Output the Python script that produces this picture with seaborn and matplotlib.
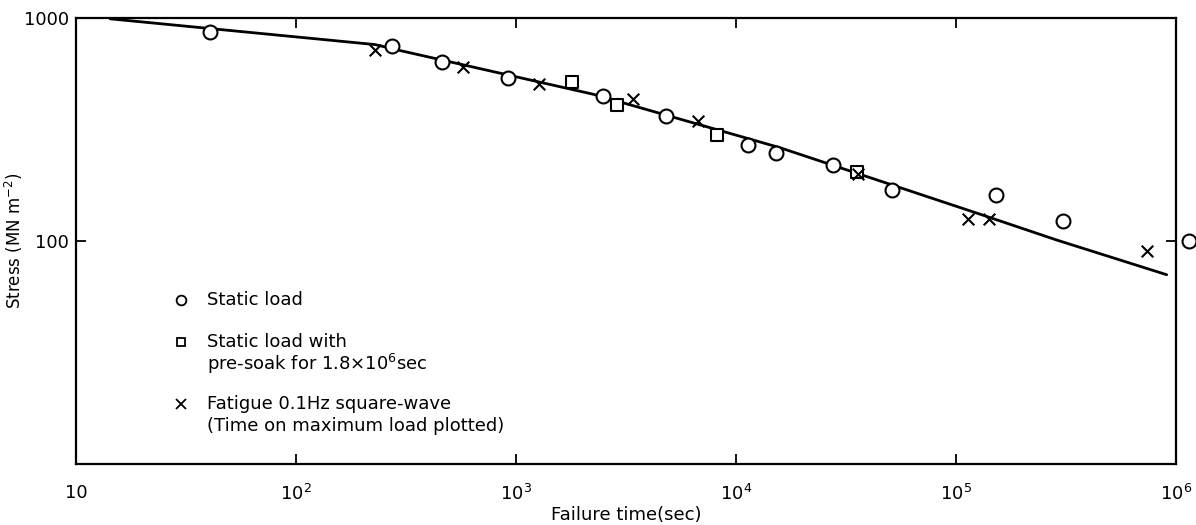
# Stress vs failure time (log-log), static load / pre-soak / fatigue
import numpy as np
import pandas as pd
import matplotlib
matplotlib.use("Agg")
import matplotlib.pyplot as plt
import seaborn as sns

# ── DATA ────────────────────────────────────────────────────
curve_t      = [14.3, 229, 297, 2239, 15850, 128500, 287700, 910000]
curve_stress = [990, 759, 714, 455, 262, 132, 101, 70.6]

static_t      = [40.6, 273, 461, 920, 2483, 4808, 11340, 15200, 27600, 51200,
                 152000, 306000, 1146000]
static_stress = [866, 751, 631, 536, 446, 363, 270, 249, 220, 170, 160, 123, 100]

soak_t      = [1800, 2877, 8200, 35500]
soak_stress = [514, 406, 299, 203]

fatigue_t      = [229, 574, 1273, 3404, 6714, 35900, 113500, 141000, 738000]
fatigue_stress = [721, 600, 504, 433, 345, 199, 125, 125, 90.3]

x_ticks  = [10, 1e2, 1e3, 1e4, 1e5, 1e6]
x_labels = ["10", r"$\mathregular{10^2}$", r"$\mathregular{10^3}$",
            r"$\mathregular{10^4}$", r"$\mathregular{10^5}$", r"$\mathregular{10^6}$"]
y_ticks  = [100, 1000]
y_labels = ["100", "1000"]

# ── STYLE ───────────────────────────────────────────────────
sns.set_style("ticks")
plt.rcParams["font.family"] = ["DejaVu Sans"]
plt.rcParams["mathtext.fontset"] = "dejavusans"
plt.rcParams["text.color"] = "black"
plt.rcParams["axes.labelcolor"] = "black"
plt.rcParams["xtick.color"] = "black"
plt.rcParams["ytick.color"] = "black"
plt.rcParams["axes.edgecolor"] = "black"

fig = plt.figure(figsize=(11.96, 5.25), dpi=100)
ax = fig.add_axes([0.0635, 0.116, 0.9195, 0.850])

curve_df = pd.DataFrame({"t": curve_t, "s": curve_stress})
sns.lineplot(data=curve_df, x="t", y="s", ax=ax, color="black", lw=2,
             sort=False, zorder=1)

sns.scatterplot(x=static_t, y=static_stress, ax=ax, marker="o", s=100,
                facecolor="white", edgecolor="black", linewidth=1.5,
                zorder=3, clip_on=False)
sns.scatterplot(x=soak_t, y=soak_stress, ax=ax, marker="s", s=65,
                facecolor="white", edgecolor="black", linewidth=1.5,
                zorder=3, clip_on=False)
sns.scatterplot(x=fatigue_t, y=fatigue_stress, ax=ax, marker="x", s=70,
                color="black", linewidth=1.5, zorder=4, clip_on=False)

ax.set_xscale("log")
ax.set_yscale("log")
ax.set_xlim(10, 1e6)
ax.set_ylim(10, 1000)

ax.set_xticks(x_ticks)
ax.set_xticklabels(x_labels, fontsize=13)
ax.set_yticks(y_ticks)
ax.set_yticklabels(y_labels, fontsize=13)
ax.minorticks_off()
ax.tick_params(direction="in", length=7, width=1.3, top=True, right=True)
ax.tick_params(axis="x", pad=14)
ax.tick_params(axis="y", pad=5)

for sp in ax.spines.values():
    sp.set_visible(True)
    sp.set_linewidth(1.6)

ax.set_xlabel("Failure time(sec)", fontsize=13, labelpad=2)
ax.set_ylabel(r"Stress (MN m$^{-2}$)", fontsize=12)
ax.yaxis.set_label_coords(-0.046, 0.5)

# ── IN-PLOT KEY ─────────────────────────────────────────────
tr = ax.transAxes
def ax_xy(px, py):
    # pixel position in figure -> axes fraction
    return ((px - 76) / 1100, (464 - py) / 446)

key = [
    ("o", 300, ["Static load"]),
    ("s", 342, ["Static load with", r"pre-soak for 1.8$\times$10$^{6}$sec"]),
    ("x", 404, ["Fatigue 0.1Hz square-wave", "(Time on maximum load plotted)"]),
]
for mk, py, lines in key:
    mx, my = ax_xy(181, py)
    ax.plot([mx], [my], transform=tr, marker=mk, ms=7 if mk != "s" else 6,
            mfc="white", mec="black", mew=1.3, color="black", ls="none")
    for i, txt in enumerate(lines):
        tx, ty = ax_xy(207, py + i * 22)
        ax.text(tx, ty, txt, transform=tr, fontsize=13, va="center", ha="left")

fig.savefig("out.png", dpi=100)
